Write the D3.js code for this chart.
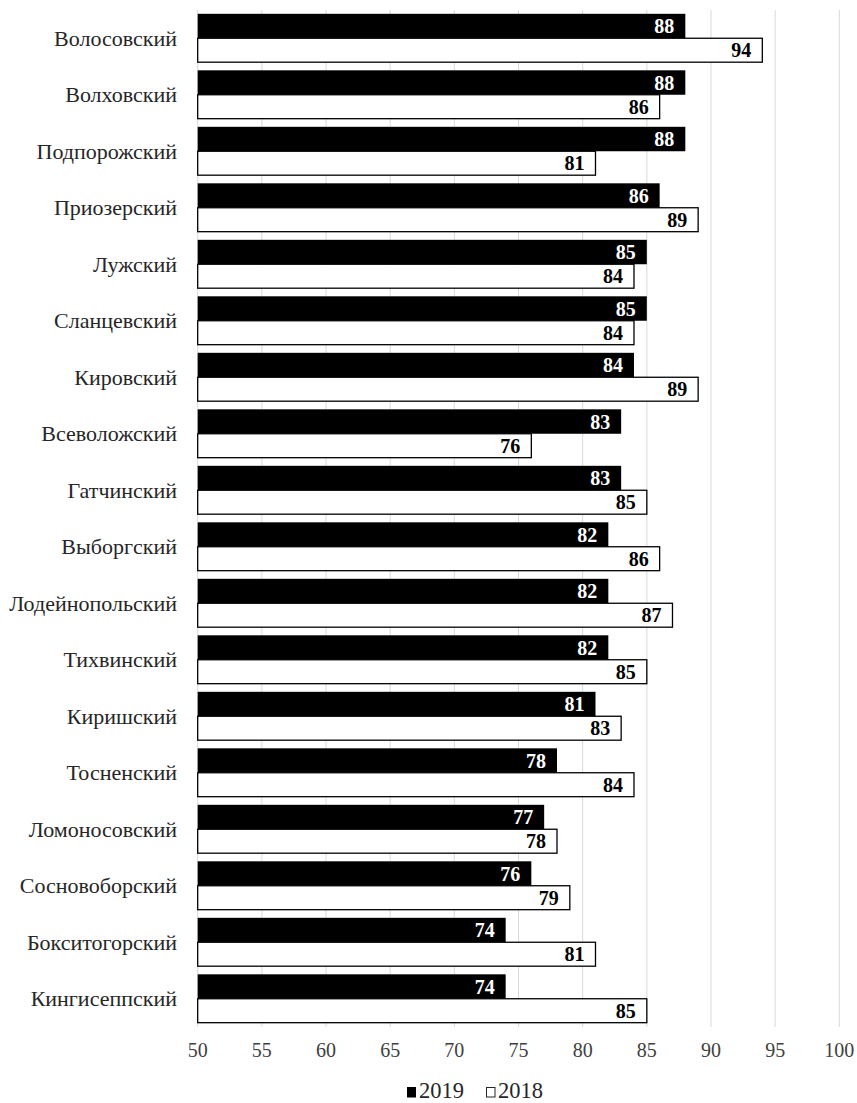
<!DOCTYPE html>
<html>
<head>
<meta charset="utf-8">
<script src="https://cdn.jsdelivr.net/npm/d3@7"></script>
<style>
  body { margin: 0; background: #fff; }
  svg { display: block; }
  text { font-family: "Liberation Serif", "Times New Roman", serif; }
</style>
</head>
<body>
<svg id="chart" width="857" height="1103"></svg>
<script>
const categories = ["Волосовский","Волховский","Подпорожский","Приозерский","Лужский","Сланцевский","Кировский","Всеволожский","Гатчинский","Выборгский","Лодейнопольский","Тихвинский","Киришский","Тосненский","Ломоносовский","Сосновоборский","Бокситогорский","Кингисеппский"];
const values2019 = [88,88,88,86,85,85,84,83,83,82,82,82,81,78,77,76,74,74];
const values2018 = [94,86,81,89,84,84,89,76,85,86,87,85,83,84,78,79,81,85];
const seriesNames = ["2019","2018"];
const xTicks = [50,55,60,65,70,75,80,85,90,95,100];

(function () {
const svg = d3.select("#chart");
const pLeft = 197.7, pRight = 839.3, pTop = 10, pBottom = 1027;

const x = d3.scaleLinear().domain([50,100]).range([pLeft,pRight]);
const y = d3.scaleBand().domain(categories).range([pTop,pBottom]).paddingInner(0.135).paddingOuter(0.0675);
const ys = d3.scaleBand().domain(seriesNames).range([0,y.bandwidth()]);

// gridlines
svg.append("g").selectAll("line").data(xTicks).join("line")
  .attr("x1", d => x(d)).attr("x2", d => x(d))
  .attr("y1", pTop).attr("y2", pBottom)
  .attr("stroke", "#d9d9d9").attr("stroke-width", 1);

const rows = categories.map((c,i) => ({c, v19: values2019[i], v18: values2018[i]}));

const g = svg.append("g");
g.selectAll("rect.b19").data(rows).join("rect").attr("class","b19")
  .attr("x", x(50)).attr("y", d => y(d.c) + ys("2019"))
  .attr("width", d => x(d.v19) - x(50)).attr("height", ys.bandwidth())
  .attr("fill", "#000");
g.selectAll("rect.b18").data(rows).join("rect").attr("class","b18")
  .attr("x", x(50)).attr("y", d => y(d.c) + ys("2018"))
  .attr("width", d => x(d.v18) - x(50)).attr("height", ys.bandwidth() - 0.5)
  .attr("fill", "#fff").attr("stroke", "#000").attr("stroke-width", 1.3);

g.selectAll("text.l19").data(rows).join("text").attr("class","l19")
  .attr("x", d => x(d.v19) - 11).attr("y", d => y(d.c) + ys("2019") + ys.bandwidth()/2)
  .attr("dy", "0.35em").attr("text-anchor","end")
  .attr("font-size", 20).attr("font-weight","bold").attr("fill","#fff")
  .text(d => d.v19);
g.selectAll("text.l18").data(rows).join("text").attr("class","l18")
  .attr("x", d => x(d.v18) - 11).attr("y", d => y(d.c) + ys("2018") + ys.bandwidth()/2)
  .attr("dy", "0.35em").attr("text-anchor","end")
  .attr("font-size", 20).attr("font-weight","bold").attr("fill","#000")
  .text(d => d.v18);

svg.append("g").selectAll("text").data(categories).join("text")
  .attr("x", 177).attr("y", d => y(d) + y.bandwidth()/2)
  .attr("dy","0.35em").attr("text-anchor","end")
  .attr("font-size", 22).attr("fill","#262626")
  .text(d => d);

svg.append("g").selectAll("text").data(xTicks).join("text")
  .attr("x", d => x(d)).attr("y", 1050)
  .attr("dy","0.35em").attr("text-anchor","middle")
  .attr("font-size", 20).attr("fill","#404040")
  .text(d => d);

const lg = svg.append("g");
lg.append("rect").attr("x", 407).attr("y", 1087).attr("width", 9).attr("height", 10.5).attr("fill","#000");
lg.append("text").attr("x", 419).attr("y", 1097.5).attr("font-size", 22.5).attr("fill","#262626").text(seriesNames[0]);
lg.append("rect").attr("x", 486.5).attr("y", 1087.5).attr("width", 8.5).attr("height", 9.5).attr("fill","#fff").attr("stroke","#262626").attr("stroke-width",1);
lg.append("text").attr("x", 498).attr("y", 1097.5).attr("font-size", 22.5).attr("fill","#262626").text(seriesNames[1]);
})();
</script>
</body>
</html>
